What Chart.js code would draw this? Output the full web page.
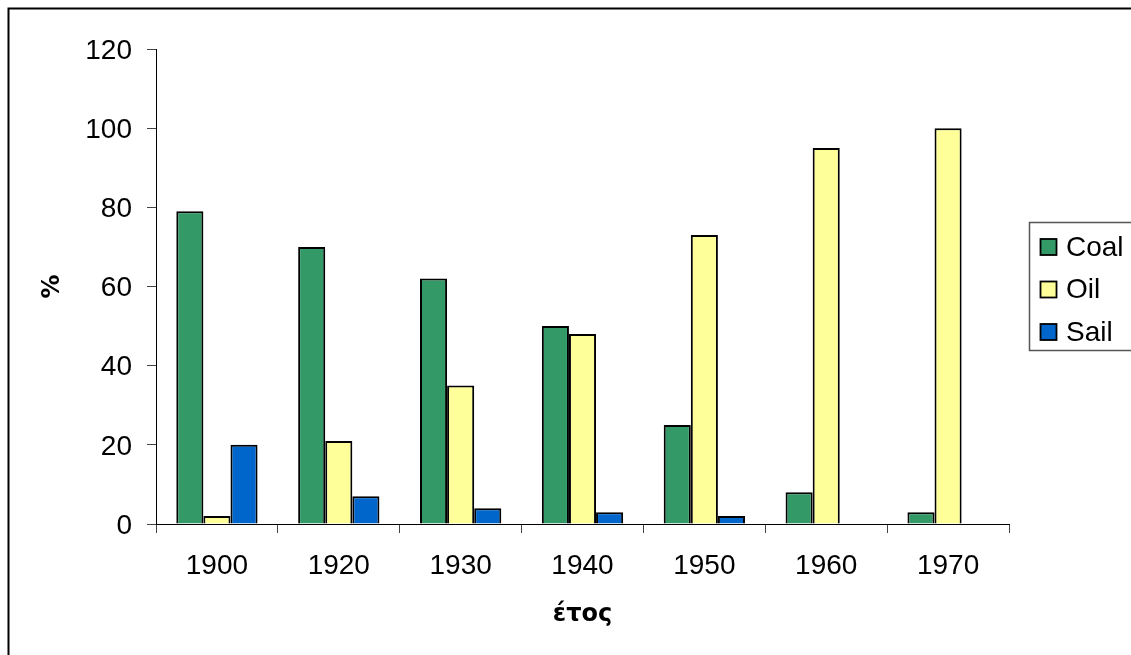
<!DOCTYPE html>
<html>
<head>
<meta charset="utf-8">
<script src="https://cdn.jsdelivr.net/npm/chart.js@4.4.1/dist/chart.umd.min.js"></script>
<style>
html,body{margin:0;padding:0;background:#fff;}
#wrap{position:relative;width:1131px;height:655px;}
</style>
</head>
<body>
<div id="wrap"><canvas id="c" width="1131" height="655"></canvas></div>
<script>
const categories = ["1900", "1920", "1930", "1940", "1950", "1960", "1970"];
const coal = [79, 70, 62, 50, 25, 8, 3];
const oil = [2, 21, 35, 48, 73, 95, 100];
const sail = [20, 7, 4, 3, 2, 0, 0];
const seriesNames = ["Coal", "Oil", "Sail"];
const seriesColors = ["#339966", "#FFFF99", "#0066CC"];
const yTicks = [0, 20, 40, 60, 80, 100, 120];
const xTitle = "έτος";
const yTitle = "%";

const FONT = "'Liberation Sans', Arial, sans-serif";
const TFONT = "'DejaVu Sans', Verdana, sans-serif";

const framePlugin = {
  id: 'frame',
  afterDraw(chart) {
    const ctx = chart.ctx;
    ctx.save();
    ctx.strokeStyle = '#000';
    ctx.lineWidth = 2;
    ctx.strokeRect(8.5, 8.5, 1140, 660);
    // legend
    const lx = 1029.5, ly = 222.5, lw = 120, lh = 128;
    ctx.strokeStyle = '#555';
    ctx.lineWidth = 1.5;
    ctx.strokeRect(lx, ly, lw, lh);
    ctx.font = "28px " + FONT;
    ctx.textBaseline = 'middle';
    ctx.textAlign = 'left';
    chart.data.datasets.forEach((ds, i) => {
      const cy = 247 + i * 42.5;
      ctx.fillStyle = ds.backgroundColor;
      ctx.fillRect(1040.5, cy - 8, 16, 16);
      ctx.strokeStyle = '#000';
      ctx.lineWidth = 1.8;
      ctx.strokeRect(1040.5, cy - 8, 16, 16);
      ctx.fillStyle = '#000';
      ctx.fillText(ds.label, 1066, cy + 1);
    });
    ctx.restore();
  }
};

new Chart(document.getElementById('c'), {
  type: 'bar',
  data: {
    labels: categories,
    datasets: [coal, oil, sail].map((d, i) => ({
      label: seriesNames[i],
      data: d,
      backgroundColor: seriesColors[i],
      borderColor: '#000',
      borderWidth: 2,
      borderSkipped: 'bottom',
      categoryPercentage: 0.667,
      barPercentage: 1.0
    }))
  },
  options: {
    responsive: false,
    animation: false,
    devicePixelRatio: 1,
    layout: { padding: { left: 0, top: 49, right: 122, bottom: 0 } },
    plugins: { legend: { display: false }, tooltip: { enabled: false } },
    scales: {
      x: {
        grid: { display: true, drawOnChartArea: false, drawTicks: true, tickLength: 9, color: '#444', offset: true },
        border: { display: true, color: '#000', width: 1 },
        ticks: { color: '#000', font: { family: FONT, size: 28 }, padding: 16, maxRotation: 0 },
        title: { display: true, text: xTitle, color: '#000', font: { family: TFONT, size: 24, weight: 'bold' }, padding: { top: 0, bottom: 26 } },
        afterFit(s) { s.height = 131; }
      },
      y: {
        min: 0, max: 120,
        afterBuildTicks(s) { s.ticks = yTicks.map(v => ({ value: v })); },
        grid: { display: true, drawOnChartArea: false, drawTicks: true, tickLength: 9, color: '#444' },
        border: { display: true, color: '#000', width: 1 },
        ticks: { color: '#000', font: { family: FONT, size: 28 }, padding: 15, labelOffset: 2 },
        title: { display: true, text: yTitle, color: '#000', font: { family: TFONT, size: 24, weight: 'bold' }, padding: { top: 38, bottom: 0 } },
        afterFit(s) { s.width = 156; }
      }
    }
  },
  plugins: [framePlugin]
});
</script>
</body>
</html>
